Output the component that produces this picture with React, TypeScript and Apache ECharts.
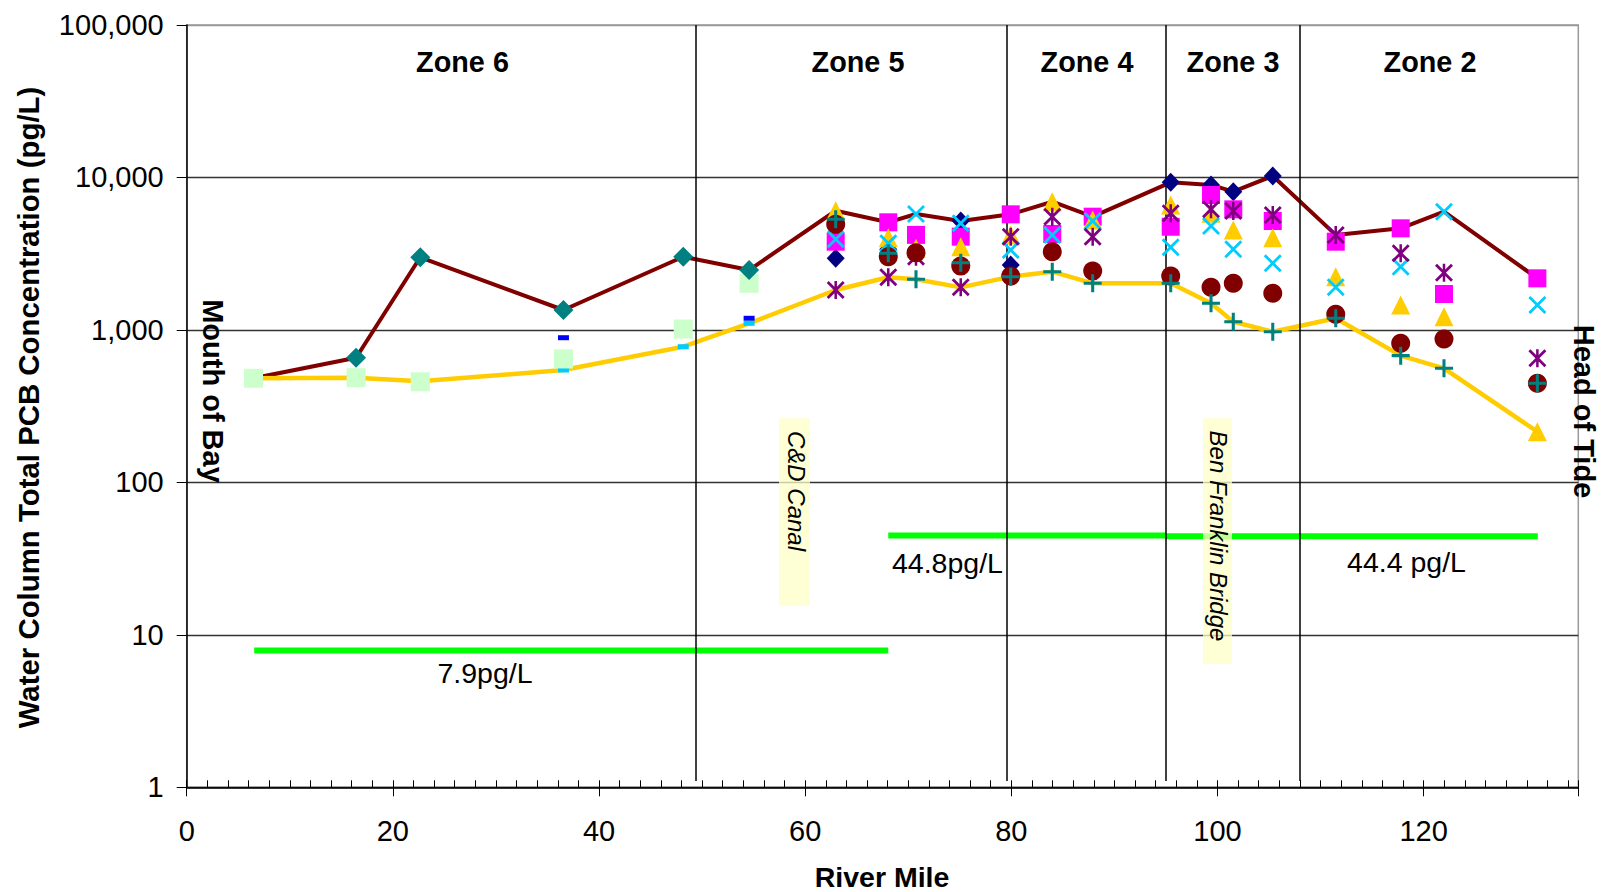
import React, { useEffect, useRef } from "react";
import * as echarts from "echarts";

const FONT = '"Liberation Sans", Arial, Helvetica, sans-serif';

// River-mile stations
const zone6Miles = [6.48, 16.43, 22.66, 36.55, 48.17, 54.56];
const miles = [62.96, 68.06, 70.75, 75.09, 79.94, 83.97, 87.89, 95.46, 99.37, 101.53, 105.36, 111.47, 117.77, 121.97, 131.03];

// Zone 6 series
const tealDiamond = [null, 657, 2995, 1351, 3020, 2470];
const greenSquare = [482, 486, 457, 645, 1014, 2022];
const blueDash = [null, null, null, 889, 1000, 1192];
const cyanDash = [null, null, null, 546, 776, 1105];

// Zones 5 - 2 series
const navyDiamond = [2950, 3380, null, 5180, 2667, null, null, 9290, 8930, 8070, 10230, null, null, null, null];
const magentaSquare = [3790, 5080, 4200, 4090, 5730, 4260, 5530, 4750, 7670, 6180, 5180, 3790, 4640, 1720, 2180];
const yellowTriangle = [6050, 4030, 3430, 3514, 4200, 6930, 5260, 6590, 5820, 4520, 4030, 2235, 1457, 1222, 215];
const cyanX = [3930, 3700, 5760, 5010, 3340, 4200, 5180, 3480, 4810, 3380, 2735, 1902, 2600, 5960, 1457];
const purpleAsterisk = [1828, 2214, 3020, 1902, 4090, 5530, 4090, 5820, 6180, 6030, 5670, 4200, 3180, 2373, 652];
const maroonCircle = [4930, 3020, 3210, 2625, 2259, 3260, 2436, 2259, 1902, 2022, 1740, 1266, 817, 872, 447];
const tealPlus = [5320, 3180, 2150, 2760, 2235, 2410, 2022, 2022, 1495, 1132, 973, 1192, 678, 560, 447];

// Max / min envelope lines
const allMiles = zone6Miles.concat(miles);
const maxLine = [482, 657, 2995, 1351, 3020, 2470, 6050, 5080, 5760, 5180, 5730, 6930, 5530, 9290, 8930, 8070, 10230, 4200, 4640, 5960, 2180];
const minLine = [482, 486, 460, 546, 776, 1105, 1828, 2214, 2150, 1902, 2235, 2410, 2022, 2022, 1495, 1132, 973, 1192, 678, 560, 215];

// Green criteria lines
const lowCriteria = [[6.55, 7.9], [68.06, 7.9]];
const midCriteria = [[68.06, 44.8], [95.0, 44.8]];
const highCriteria = [[95.0, 44.4], [131.07, 44.4]];

// Zone boundaries (river mile)
const zoneBoundaries = [49.4, 79.6, 95.0, 108.0];
const xTickLabels = [0, 20, 40, 60, 80, 100, 120];

const pair = (xs: number[], ys: (number | null)[]) =>
  xs.map((x, i) => (ys[i] == null ? null : [x, ys[i]])).filter((p) => p !== null);

const plusPath = "path://M8.3,0H11.7V8.3H20V11.7H11.7V20H8.3V11.7H0V8.3H8.3Z";
const xPath = "path://M0,2.2L2.2,0L10,7.8L17.8,0L20,2.2L12.2,10L20,17.8L17.8,20L10,12.2L2.2,20L0,17.8L7.8,10Z";
const asteriskPath =
  "path://M0,2.2L2.2,0L10,7.8L17.8,0L20,2.2L12.2,10L20,17.8L17.8,20L10,12.2L2.2,20L0,17.8L7.8,10ZM8.6,0H11.4V20H8.6Z";

const txt = (
  text: string,
  x: number,
  y: number,
  size: number,
  opts: { weight?: string; italic?: boolean; rot?: number; align?: string } = {}
) => ({
  type: "text",
  x,
  y,
  rotation: opts.rot || 0,
  z: 100,
  silent: true,
  style: {
    text,
    fill: "#000",
    font: `${opts.italic ? "italic" : "normal"} ${opts.weight || "normal"} ${size}px ${FONT}`,
    textAlign: opts.align || "center",
    textVerticalAlign: "middle",
    align: opts.align || "center",
    verticalAlign: "middle",
  },
});

export default function App() {
  const ref = useRef<HTMLDivElement>(null);
  useEffect(() => {
    if (!ref.current) return;
    const chart = echarts.init(ref.current, undefined, { renderer: "svg" });

    const sc = (name: string, data: any[], symbol: string, size: any, color: string, z: number) => ({
      type: "scatter",
      name,
      data,
      symbol,
      symbolSize: size,
      itemStyle: { color, opacity: 1 },
      z,
      silent: true,
    });

    const ln = (name: string, data: any[], color: string, width: number, z: number) => ({
      type: "line",
      name,
      data,
      symbol: "none",
      lineStyle: { color, width },
      z,
      silent: true,
    });

    const option: any = {
      animation: false,
      backgroundColor: "#fff",
      grid: {
        left: 186.7,
        top: 25,
        right: 22.7,
        bottom: 104.7,
        show: true,
        borderColor: "#999",
        borderWidth: 1.5,
        backgroundColor: "transparent",
      },
      xAxis: [
        {
          type: "value",
          position: "bottom",
          min: 0,
          max: 135,
          interval: 20,
          axisLine: { show: true, onZero: false, lineStyle: { color: "#000", width: 1.5 } },
          axisTick: { show: true, inside: false, length: 9, lineStyle: { color: "#000", width: 1 } },
          axisLabel: {
            show: true,
            margin: 29,
            color: "#000",
            fontSize: 29,
            fontFamily: FONT,
            formatter: (v: number) => (xTickLabels.indexOf(v) >= 0 ? String(v) : ""),
          },
          splitLine: { show: false },
        },
        {
          type: "value",
          position: "bottom",
          min: 0,
          max: 135,
          interval: 2,
          axisLine: { show: false, onZero: false },
          axisTick: { show: true, inside: true, length: 7, lineStyle: { color: "#000", width: 1 } },
          axisLabel: { show: false },
          splitLine: { show: false },
        },
      ],
      yAxis: {
        type: "log",
        logBase: 10,
        min: 1,
        max: 100000,
        axisLine: { show: true, lineStyle: { color: "#000", width: 1.5 } },
        axisTick: { show: true, inside: false, length: 10, lineStyle: { color: "#000", width: 1 } },
        axisLabel: {
          margin: 23,
          color: "#000",
          fontSize: 29,
          fontFamily: FONT,
          formatter: (v: number) => Math.round(v).toLocaleString("en-US"),
        },
        splitLine: {
          show: true,
          lineStyle: { color: ["#333", "#333", "#333", "#333", "#333", "#999"], width: 1.3 },
        },
      },
      series: [
        ln("7.9 criteria", lowCriteria, "#00FF00", 6, 2),
        ln("44.8 criteria", midCriteria, "#00FF00", 6, 2),
        ln("44.4 criteria", highCriteria, "#00FF00", 6, 2),
        ln("Maximum", pair(allMiles, maxLine), "#800000", 4, 2),
        ln("Minimum", pair(allMiles, minLine), "#FFCC00", 4.5, 2),
        sc("Blue dash", pair(zone6Miles, blueDash), "rect", [11, 5], "#0000FF", 3),
        sc("Cyan dash", pair(zone6Miles, cyanDash), "rect", [11, 5], "#00CCFF", 4),
        sc("Green square", pair(zone6Miles, greenSquare), "rect", 19, "#CCFFCC", 5),
        sc("Teal diamond", pair(zone6Miles, tealDiamond), "diamond", 20, "#008080", 6),
        sc("Navy diamond", pair(miles, navyDiamond), "diamond", [18, 19], "#000080", 7),
        sc("Magenta square", pair(miles, magentaSquare), "rect", 18, "#FF00FF", 8),
        sc("Yellow triangle", pair(miles, yellowTriangle), "triangle", 19, "#FFCC00", 9),
        sc("Cyan x", pair(miles, cyanX), xPath, 18, "#00CCFF", 10),
        sc("Purple asterisk", pair(miles, purpleAsterisk), asteriskPath, 18, "#800080", 11),
        sc("Maroon circle", pair(miles, maroonCircle), "circle", 19, "#800000", 12),
        sc("Teal plus", pair(miles, tealPlus), plusPath, 18, "#008080", 13),
        {
          type: "line",
          name: "Zone boundaries",
          data: [],
          z: 20,
          silent: true,
          markLine: {
            silent: true,
            symbol: "none",
            label: { show: false },
            lineStyle: { color: "#000", width: 1.5, type: "solid" },
            data: zoneBoundaries.map((b) => [{ coord: [b, 1.1] }, { coord: [b, 100000] }]),
          },
        },
      ],
      graphic: [
        txt("Zone 6", 462.5, 62, 28.8, { weight: "bold" }),
        txt("Zone 5", 858, 62, 28.8, { weight: "bold" }),
        txt("Zone 4", 1087, 62, 28.8, { weight: "bold" }),
        txt("Zone 3", 1233, 62, 28.8, { weight: "bold" }),
        txt("Zone 2", 1430, 62, 28.8, { weight: "bold" }),
        txt("Water Column Total PCB Concentration (pg/L)", 28, 407.5, 29.4, { weight: "bold", rot: Math.PI / 2 }),
        txt("River Mile", 882, 877, 28.5, { weight: "bold" }),
        txt("Mouth of Bay", 212.5, 391, 29, { weight: "bold", rot: -Math.PI / 2 }),
        txt("Head of Tide", 1584, 411.5, 29, { weight: "bold", rot: -Math.PI / 2 }),
        {
          type: "rect",
          z: 99,
          silent: true,
          shape: { x: 779, y: 418.3, width: 31, height: 187.4 },
          style: { fill: "rgba(255,255,200,0.75)" },
        },
        {
          type: "rect",
          z: 99,
          silent: true,
          shape: { x: 1203, y: 418.3, width: 29, height: 245.4 },
          style: { fill: "rgba(255,255,200,0.75)" },
        },
        txt("C&D Canal", 796, 491, 24, { italic: true, rot: -Math.PI / 2 }),
        txt("Ben Franklin Bridge", 1218, 536, 24, { italic: true, rot: -Math.PI / 2 }),
        txt("7.9pg/L", 485, 673, 28.5),
        txt("44.8pg/L", 892, 563, 28.5, { align: "left" }),
        txt("44.4 pg/L", 1406.5, 562, 28.5),
      ],
    };
    chart.setOption(option);
    return () => chart.dispose();
  }, []);
  return (
    <div
      ref={ref}
      style={{ position: "fixed", left: 0, top: 0, width: 1601, height: 892, background: "#fff" }}
    />
  );
}
